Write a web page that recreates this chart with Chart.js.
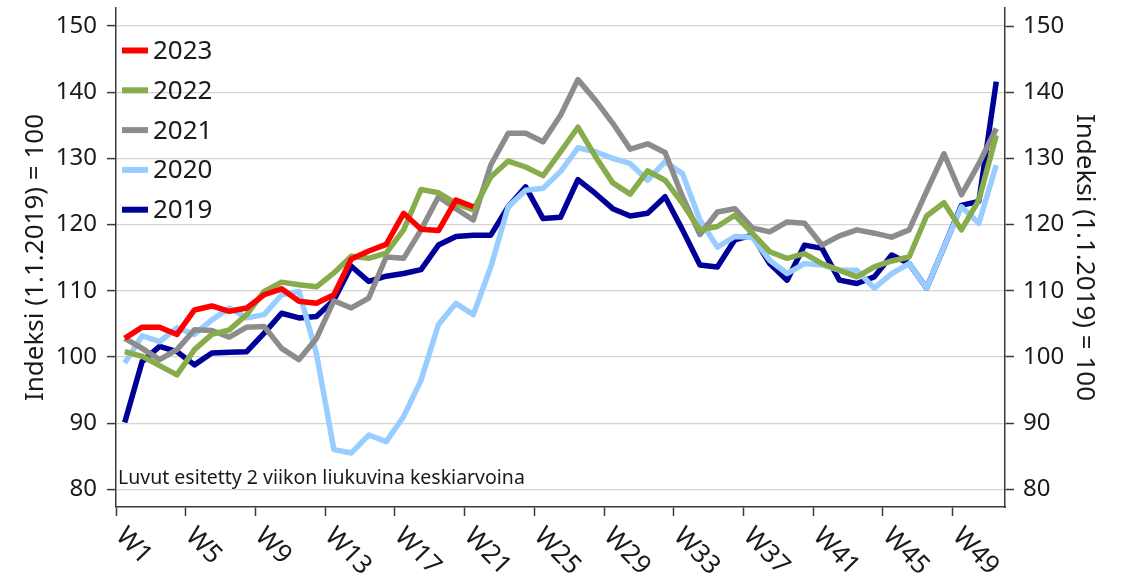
<!DOCTYPE html>
<html>
<head>
<meta charset="utf-8">
<script src="https://cdn.jsdelivr.net/npm/chart.js@4.4.1/dist/chart.umd.min.js"></script>
<style>
  html, body { margin: 0; padding: 0; background: #ffffff; }
  #wrap { width: 1128px; height: 583px; }
</style>
</head>
<body>
<div id="wrap"><canvas id="c" width="1128" height="583"></canvas></div>
<script>
// ---------- DATA ----------
const weeks = ['W1','W2','W3','W4','W5','W6','W7','W8','W9','W10','W11','W12','W13','W14','W15','W16','W17','W18','W19','W20',
  'W21','W22','W23','W24','W25','W26','W27','W28','W29','W30','W31','W32','W33','W34','W35','W36','W37','W38','W39','W40',
  'W41','W42','W43','W44','W45','W46','W47','W48','W49','W50','W51'];
const shownWeekLabels = ['W1','W5','W9','W13','W17','W21','W25','W29','W33','W37','W41','W45','W49'];
const yTicks = [80, 90, 100, 110, 120, 130, 140, 150];
const seriesNames = ['2023', '2022', '2021', '2020', '2019'];

const y2023 = [102.8, 104.5, 104.5, 103.4, 107.1, 107.7, 106.9, 107.4, 109.4, 110.3, 108.4, 108.1, 109.4, 114.8, 116.0,
  117.0, 121.7, 119.3, 119.1, 123.7, 122.7];
const y2022 = [100.8, 100.1, 98.7, 97.3, 101.1, 103.4, 104.1, 106.4, 109.9, 111.3, 110.9, 110.6, 112.7, 115.2, 114.9,
  115.7, 119.2, 125.3, 124.8, 123.2, 122.2, 127.2, 129.6, 128.7, 127.4, 131.0, 134.7, 130.3, 126.3, 124.6, 128.1, 126.7, 123.2, 119.2,
  119.7, 121.4, 118.7, 115.9, 114.9, 115.6, 114.1, 113.1, 112.1, 113.6, 114.5, 115.1, 121.3, 123.3, 119.2, 123.7, 133.5];
const y2021 = [102.8, 101.3, 99.6, 101.1, 104.1, 104.0, 103.0, 104.5, 104.6, 101.3, 99.6, 102.8, 108.5, 107.4, 108.9,
  115.1, 114.9, 119.2, 124.2, 122.4, 120.7, 129.0, 133.8, 133.8, 132.5, 136.5, 141.9, 138.8, 135.3, 131.4, 132.2, 130.9, 124.2, 118.5,
  121.9, 122.4, 119.5, 118.9, 120.4, 120.2, 116.9, 118.3, 119.2, 118.7, 118.1, 119.2, 125.0, 130.7, 124.5, 129.2, 134.5];
const y2020 = [99.1, 103.2, 102.3, 104.4, 103.4, 105.6, 107.4, 105.9, 106.4, 109.4, 109.9, 100.5, 86.0, 85.5, 88.2, 87.2,
  91.0, 96.5, 104.9, 108.1, 106.4, 113.6, 122.7, 125.2, 125.5, 128.0, 131.6, 131.0, 130.0, 129.2, 126.7, 129.5, 127.7, 120.7,
  116.6, 118.2, 118.1, 114.6, 112.6, 114.1, 113.9, 113.1, 113.1, 110.4, 112.6, 114.1, 110.4, 116.6, 122.7, 120.2, 129.0];
const y2019 = [90.1, 99.3, 101.6, 100.8, 98.8, 100.6, 100.7, 100.8, 103.6, 106.6, 105.9, 106.1, 108.6, 113.7, 111.4,
  112.2, 112.6, 113.2, 116.9, 118.2, 118.4, 118.4, 122.7, 125.7, 120.9, 121.1, 126.8, 124.7, 122.4, 121.3, 121.7, 124.2, 119.2, 113.9,
  113.6, 117.7, 118.4, 114.1, 111.6, 116.9, 116.4, 111.6, 111.1, 112.1, 115.4, 114.1, 110.4, 116.6, 122.9, 123.5, 141.6];

const yAxisTitle = 'Indeksi (1.1.2019) = 100';
const noteText = 'Luvut esitetty 2 viikon liukuvina keskiarvoina';

// ---------- STYLE ----------
const FONT = "'Noto Sans', 'Open Sans', sans-serif";
const TEXT = '#1a1a1a';
const AXIS = '#3a3a3a';
const colors = ['#ff0000', '#86ac4c', '#8c8c8c', '#99ccff', '#000099'];
const seriesData = [y2023, y2022, y2021, y2020, y2019];

const datasets = seriesNames.map((name, i) => ({
  label: name,
  data: seriesData[i],
  borderColor: colors[i],
  backgroundColor: colors[i],
  borderWidth: 5.5,
  pointRadius: 0,
  pointHoverRadius: 0,
  tension: 0,
  fill: false,
  borderJoinStyle: 'round',
  borderCapStyle: 'butt',
  yAxisID: 'y'
}));

const overlayPlugin = {
  id: 'overlay',
  afterDraw(chart) {
    const ctx = chart.ctx;
    const xs = chart.scales.x;
    const area = chart.chartArea;
    const step = xs.getPixelForValue(1) - xs.getPixelForValue(0);
    // x tick labels, rotated clockwise, starting at the tick
    ctx.save();
    ctx.fillStyle = TEXT;
    ctx.font = "26px " + FONT;
    ctx.textAlign = 'left';
    ctx.textBaseline = 'middle';
    weeks.forEach((w, i) => {
      if (!shownWeekLabels.includes(w)) return;
      const tx = xs.getPixelForValue(i) - step / 2;
      ctx.save();
      ctx.translate(tx + 4, area.bottom + 25);
      ctx.rotate(46 * Math.PI / 180);
      ctx.fillText(w, 0, 0);
      ctx.restore();
    });
    ctx.restore();

    // legend inside the plot area
    ctx.save();
    ctx.font = "26px " + FONT;
    ctx.textBaseline = 'middle';
    ctx.textAlign = 'left';
    chart.data.datasets.forEach((ds, i) => {
      const cy = 50.5 + i * 39.8;
      ctx.strokeStyle = ds.borderColor;
      ctx.lineWidth = 6;
      ctx.lineCap = 'butt';
      ctx.beginPath();
      ctx.moveTo(122, cy);
      ctx.lineTo(148, cy);
      ctx.stroke();
      ctx.fillStyle = TEXT;
      ctx.fillText(ds.label, 153, cy + 1);
    });
    ctx.restore();

    // note
    ctx.save();
    ctx.font = "19.5px " + FONT;
    ctx.fillStyle = TEXT;
    ctx.textAlign = 'left';
    ctx.textBaseline = 'alphabetic';
    ctx.fillText(noteText, 118, 484);
    ctx.restore();
  }
};

const yCommon = {
  min: 77.33,
  max: 152.72,
  afterBuildTicks: (s) => { s.ticks = yTicks.map(v => ({ value: v })); },
  border: { display: true, color: AXIS, width: 1.5 },
  ticks: {
    color: TEXT,
    font: { family: FONT, size: 24 },
    callback: (v) => String(v)
  },
  title: {
    display: true,
    text: yAxisTitle,
    color: TEXT,
    font: { family: FONT, size: 26 }
  }
};

new Chart(document.getElementById('c'), {
  type: 'line',
  data: { labels: weeks, datasets },
  options: {
    responsive: false,
    devicePixelRatio: 1,
    animation: false,
    events: [],
    layout: { padding: { top: 8, left: 0, right: 0, bottom: 0 } },
    plugins: { legend: { display: false }, tooltip: { enabled: false } },
    scales: {
      x: {
        type: 'category',
        offset: true,
        grid: {
          offset: true,
          drawOnChartArea: false,
          drawTicks: true,
          tickLength: 9,
          tickWidth: 1.5,
          tickColor: (c) => (c.index % 4 === 0 ? AXIS : 'rgba(0,0,0,0)')
        },
        border: { display: true, color: AXIS, width: 1.5 },
        ticks: { display: false, autoSkip: false },
        afterFit: (s) => { s.height = 76; s.paddingLeft = 0; s.paddingRight = 0; }
      },
      y: Object.assign({}, yCommon, {
        position: 'left',
        grid: { color: '#d4d4d4', lineWidth: 1.2, drawTicks: true, tickLength: 9, tickColor: AXIS, tickWidth: 1.5 },
        ticks: Object.assign({}, yCommon.ticks, { padding: 10 }),
        title: Object.assign({}, yCommon.title, { padding: { top: 20, bottom: 0 } }),
        afterFit: (s) => { s.width = 116; s.paddingTop = 0; s.paddingBottom = 0; }
      }),
      y2: Object.assign({}, yCommon, {
        position: 'right',
        grid: { drawOnChartArea: false, drawTicks: true, tickLength: 9, tickColor: AXIS, tickWidth: 1.5 },
        ticks: Object.assign({}, yCommon.ticks, { padding: 9 }),
        title: Object.assign({}, yCommon.title, { padding: { top: 28, bottom: 0 } }),
        afterFit: (s) => { s.width = 123; s.paddingTop = 0; s.paddingBottom = 0; }
      })
    }
  },
  plugins: [overlayPlugin]
});
</script>
</body>
</html>
